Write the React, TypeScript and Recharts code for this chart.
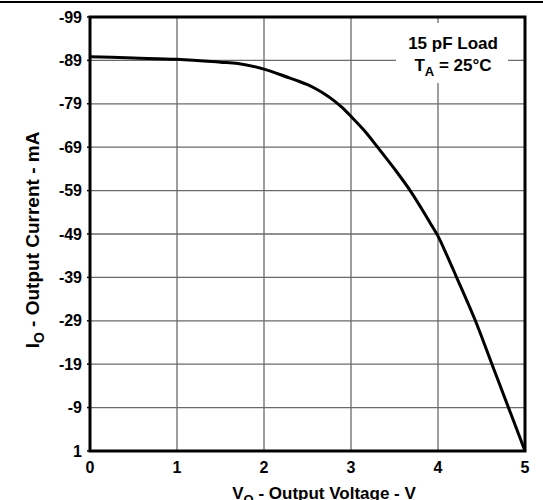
import React from "react";
import { LineChart, Line, XAxis, YAxis, CartesianGrid, ReferenceArea } from "recharts";

const voltage = [0, 0.5, 1, 1.5, 1.7, 2, 2.3, 2.4, 2.5, 2.6, 2.7, 2.8, 2.9, 3, 3.15, 3.31, 3.5, 3.68, 3.84, 3.92, 4, 4.1, 4.21, 4.43, 4.62, 4.81, 5];
const current = [-89.85, -89.55, -89.25, -88.6, -88.3, -87.0, -84.9, -84.2, -83.4, -82.4, -81.2, -79.8, -78.1, -76.1, -72.9, -68.9, -64.0, -59.0, -53.9, -51.2, -48.5, -44.2, -39.2, -29.0, -19.0, -9.0, 1];
const xTicks = [0, 1, 2, 3, 4, 5];
const yTicks = [-99, -89, -79, -69, -59, -49, -39, -29, -19, -9, 1];

const data = voltage.map((v, i) => ({ v, i: current[i] }));

const FONT = "'Liberation Sans', Arial, Helvetica, sans-serif";

export default function App() {
  const tickStyle = { fontFamily: FONT, fontSize: 16, fontWeight: 700, fill: "#000" };
  return (
    <div style={{ position: "absolute", left: 0, top: 0, width: 543, height: 500, background: "#fff", overflow: "hidden", fontFamily: FONT }}>
      <LineChart width={543} height={500} data={data} margin={{ top: 17, right: 18, bottom: 19, left: 0 }}>
        <CartesianGrid stroke="#6a6a6a" strokeWidth={1.3} />
        <XAxis
          dataKey="v"
          type="number"
          domain={[0, 5]}
          ticks={xTicks}
          height={30}
          tickSize={0}
          tickMargin={11}
          axisLine={false}
          tick={tickStyle}
        />
        <YAxis
          type="number"
          domain={[-99, 1]}
          ticks={yTicks}
          reversed
          width={90}
          tickSize={3}
          tickMargin={5}
          axisLine={false}
          tickLine={{ stroke: "#000", strokeWidth: 1.5 }}
          tick={tickStyle}
          interval={0}
        />
        <ReferenceArea x1={0} x2={5} y1={-99} y2={1} fill="none" stroke="#000" strokeWidth={3} ifOverflow="visible" />
        <Line dataKey="i" type="monotone" stroke="#000" strokeWidth={3} dot={false} isAnimationActive={false} />
      </LineChart>
      <svg width={543} height={500} style={{ position: "absolute", left: 0, top: 0, pointerEvents: "none" }}>
        <rect x={0} y={1} width={543} height={2} fill="#000" />
        <rect x={396} y={23} width={112} height={60} fill="#fff" />
        <g fontFamily={FONT} fontWeight={700} fill="#000">
          <text x={453} y={49} fontSize={17} textAnchor="middle">15 pF Load</text>
          <text x={453} y={71} fontSize={17} textAnchor="middle">
            T<tspan fontSize={13} dy={5}>A</tspan><tspan dy={-5}> = 25°C</tspan>
          </text>
          <text transform="translate(39,240) rotate(-90)" fontSize={19} textAnchor="middle">
            I<tspan fontSize={14} dy={5}>O</tspan><tspan dy={-5}> - Output Current - mA</tspan>
          </text>
          <text x={324} y={499} fontSize={17} textAnchor="middle">
            V<tspan fontSize={13} dy={5}>O</tspan><tspan dy={-5}> - Output Voltage - V</tspan>
          </text>
        </g>
      </svg>
    </div>
  );
}
